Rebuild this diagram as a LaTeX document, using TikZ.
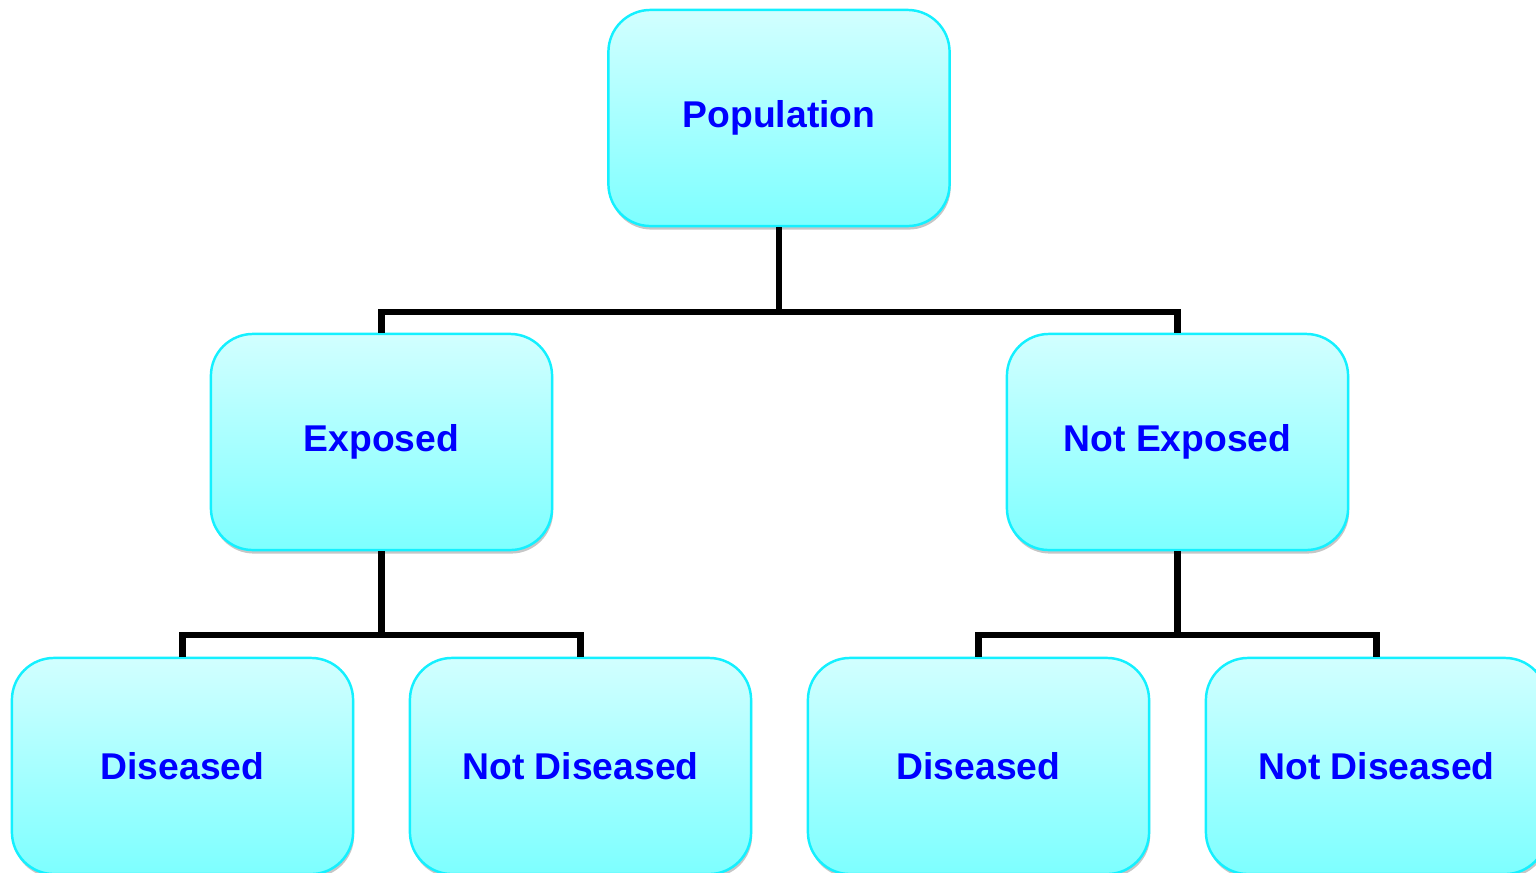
\documentclass[tikz,border=0pt]{standalone}
\usepackage{fontspec}
\setmainfont{Liberation Sans}
\usetikzlibrary{shadows}
\definecolor{boxtop}{RGB}{210,255,255}
\definecolor{boxbot}{RGB}{125,255,255}
\definecolor{boxline}{RGB}{20,240,255}
\tikzset{
  group/.style={draw=boxline, line width=0.7pt, rounded corners=0.42cm,
    top color=boxtop, bottom color=boxbot,
    drop shadow={shadow xshift=0.3pt, shadow yshift=-1pt, fill=gray!45, opacity=1},
    minimum width=3.41cm, minimum height=2.16cm, text=blue,
    font=\fontsize{10.6}{13}\selectfont\bfseries},
  link/.style={line width=1.8pt}
}
\begin{document}
\begin{tikzpicture}[x=0.01cm,y=-0.01cm]
\useasboundingbox (0,0) rectangle (1536,872);
\clip (0,0) rectangle (1536,872);

\node[group] (pop) at (779,118) {Population};
\node[group] (exp) at (381.5,442) {Exposed};
\node[group] (nexp) at (1177.5,442) {Not Exposed};

\node[group] (expdis) at (182.5,766) {Diseased};
\node[group] (expnot) at (580.5,766) {Not Diseased};
\node[group] (nexpdis) at (978.5,766) {Diseased};
\node[group] (nexpnot) at (1376.5,766) {Not Diseased};

\coordinate (split) at (779,312);
\coordinate (splitexp) at (381.5,635);
\coordinate (splitnexp) at (1177.5,635);

\draw[link] (pop.south) -- (split);
\draw[link] (split) -| (exp.north);
\draw[link] (split) -| (nexp.north);
\draw[link] (exp.south) -- (splitexp);
\draw[link] (splitexp) -| (expdis.north);
\draw[link] (splitexp) -| (expnot.north);
\draw[link] (nexp.south) -- (splitnexp);
\draw[link] (splitnexp) -| (nexpdis.north);
\draw[link] (splitnexp) -| (nexpnot.north);
\end{tikzpicture}
\end{document}
